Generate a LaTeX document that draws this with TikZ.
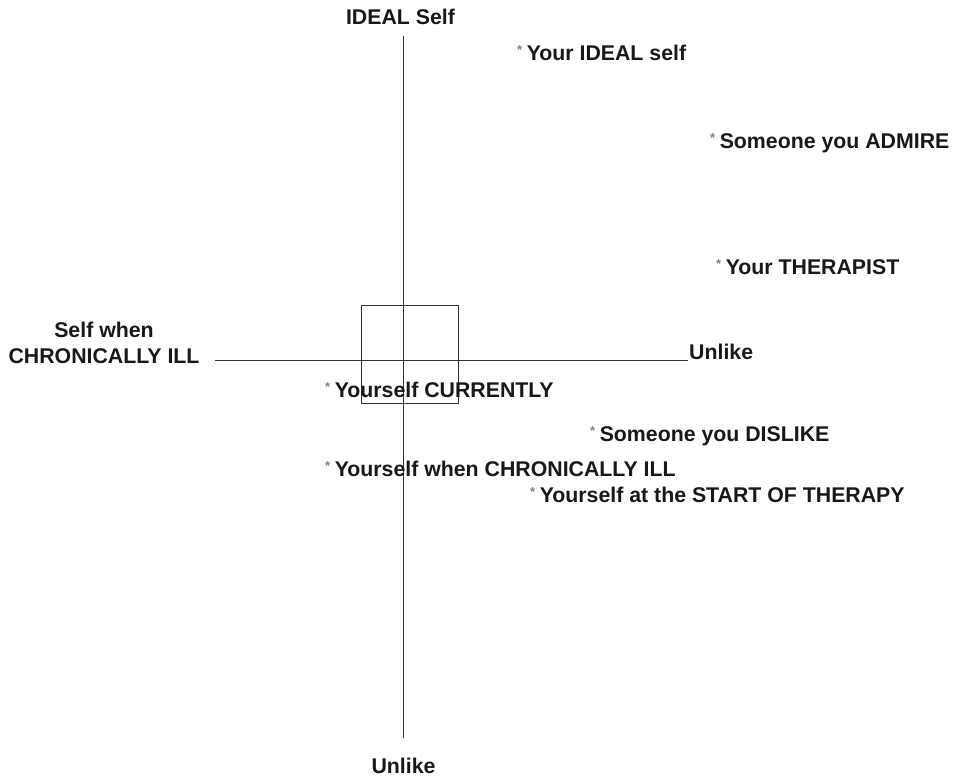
\documentclass[tikz,border=0pt]{standalone}
\usepackage{fontspec}
\setmainfont{Liberation Sans}
\definecolor{ink}{HTML}{1A1718}
\definecolor{axis}{HTML}{333333}
\newcommand\mystar{\raisebox{6pt}{\fontsize{13}{13}\selectfont\color{gray}*}\hspace{4.5pt}}
\begin{document}
\begin{tikzpicture}[x=1pt,y=-1pt,
  lbl/.style={inner sep=0pt,text=ink,font=\fontsize{21.3}{25}\selectfont\bfseries},
  pt/.style={lbl,anchor=base west},
  ax/.style={draw=axis,line width=1pt}]
\useasboundingbox (0,0) rectangle (959,778);
% axes
\coordinate (vt) at (403.5,36);
\coordinate (vb) at (403.5,738);
\coordinate (hl) at (215,360.5);
\coordinate (hr) at (688,360.5);
\draw[ax] (vt) -- (vb);
\draw[ax] (hl) -- (hr);
\node[draw=axis,line width=1pt,minimum width=97pt,minimum height=97.5pt,inner sep=0pt] (box) at (409.5,354.5) {};
% axis labels
\node[lbl,anchor=base] (top) at (400.5,25) {IDEAL Self};
\node[lbl,anchor=base] (bot) at (403.5,773) {Unlike};
\node[lbl,anchor=base west] (right) at (689,359) {Unlike};
\node[lbl,anchor=base] (left1) at (104,337) {Self when};
\node[lbl,anchor=base] (left2) at (104,363) {CHRONICALLY ILL};
% points
\node[pt] (p1) at (517,61) {\mystar Your IDEAL self};
\node[pt] (p2) at (710,149) {\mystar Someone you ADMIRE};
\node[pt] (p3) at (716,275) {\mystar Your THERAPIST};
\node[pt] (p4) at (325,397) {\mystar Yourself CURRENTLY};
\node[pt] (p5) at (590,441) {\mystar Someone you DISLIKE};
\node[pt] (p6) at (325,476) {\mystar Yourself when CHRONICALLY ILL};
\node[pt] (p7) at (530,502) {\mystar Yourself at the START OF THERAPY};
\end{tikzpicture}
\end{document}
